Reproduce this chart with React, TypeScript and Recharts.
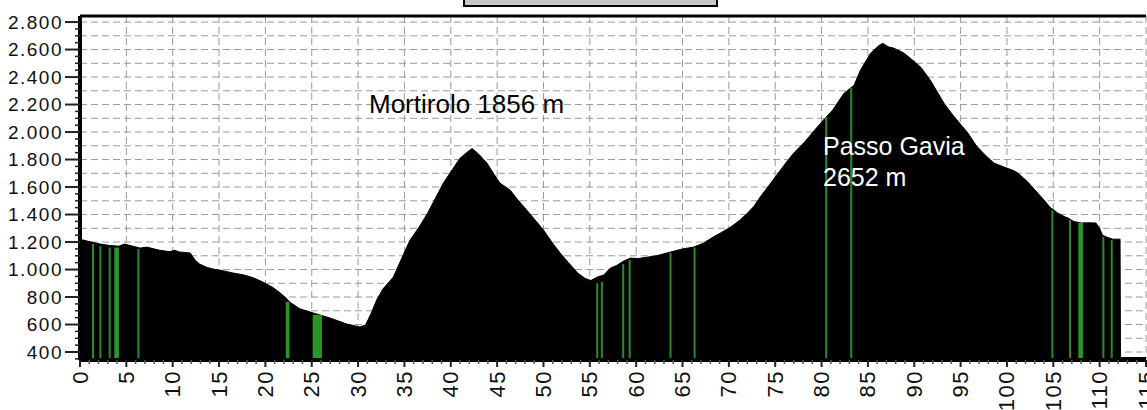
import { ComposedChart, Area, XAxis, YAxis, CartesianGrid, ReferenceLine, ReferenceArea } from 'recharts';

// profilo altimetrico: [km, quota m]
const PROFILE: [number, number][] = [
  [0, 1220], [1.2, 1200], [2.2, 1185], [3.2, 1175], [4.2, 1170], [4.8, 1185], [5.7, 1170],
  [6.5, 1156], [7.2, 1163], [8.6, 1140], [9.7, 1130], [10.2, 1140], [10.7, 1128], [11.9, 1120],
  [12.4, 1070], [12.9, 1040], [13.7, 1015], [14.4, 1003], [15.5, 990], [16.5, 975], [17.7, 960],
  [18.7, 940], [19.7, 910], [20.8, 870], [21.6, 830], [22.1, 800], [22.7, 760], [23.7, 715],
  [25.2, 683], [27, 647], [28.8, 603], [29.7, 590], [30.2, 582], [30.8, 596], [31.4, 680],
  [32, 778], [32.7, 860], [33.8, 945], [34.7, 1080], [35.6, 1214], [36.5, 1300], [37.5, 1410],
  [38.2, 1500], [39.2, 1629], [40.2, 1730], [41, 1810], [41.7, 1850], [42.3, 1880], [43, 1840],
  [43.9, 1774], [44.6, 1700], [45.3, 1629], [46.4, 1578], [47.2, 1510], [48.2, 1432], [49.1, 1360],
  [50, 1287], [50.9, 1200], [51.8, 1120], [52.7, 1050], [53.7, 974], [54.5, 935], [55.1, 920],
  [55.8, 945], [56.5, 960], [57.2, 1010], [57.9, 1030], [58.6, 1060], [59.4, 1083], [60.2, 1080],
  [61.2, 1090], [62.2, 1100], [63.7, 1127], [65, 1150], [66.2, 1163], [67.2, 1190], [68.3, 1236],
  [69.2, 1270], [70.2, 1309], [71.2, 1360], [72, 1410], [72.7, 1460], [73.4, 1530], [74.2, 1600],
  [75.2, 1690], [76.2, 1780], [77, 1847], [78.2, 1930], [79.2, 2010], [80.2, 2087], [81.2, 2160],
  [82.4, 2280], [83.5, 2340], [84.2, 2450], [85.3, 2574], [86.2, 2630], [86.6, 2645], [87.2, 2620],
  [87.8, 2610], [88.9, 2574], [89.7, 2530], [90.7, 2472], [91.7, 2380], [92.5, 2290], [93.2, 2210],
  [94.2, 2120], [95.2, 2040], [95.8, 1992], [96.7, 1900], [97.7, 1830], [98.6, 1774], [99.7, 1745],
  [100.7, 1720], [101.2, 1701], [102.2, 1640], [103.2, 1565], [104, 1505], [104.7, 1450],
  [105.5, 1410], [106.2, 1385], [106.6, 1374], [107.2, 1350], [108, 1338], [108.7, 1340],
  [109.6, 1338], [110, 1300], [110.3, 1250], [110.8, 1235], [111.4, 1221], [112.2, 1221],
  [112.25, 360], [115, 360],
];

// segnalini verdi: km e quota dove finiscono
const MARKER_KM = [1.4, 2.2, 3.2, 6.3, 55.8, 56.3, 58.6, 59.3, 63.7, 66.3, 80.5, 83.2, 104.9, 106.8, 110.4, 111.3];
const MARKER_TOP = [1185, 1170, 1160, 1150, 900, 910, 1040, 1070, 1120, 1160, 2110, 2320, 1430, 1360, 1236, 1214];
const BAND_START = [3.7, 22.2, 25.1, 107.7];
const BAND_END = [4.2, 22.6, 26.1, 108.2];
const BAND_TOP = [1160, 765, 670, 1338];

const Y_LABELS = [400, 600, 800, 1000, 1200, 1400, 1600, 1800, 2000, 2200, 2400, 2600, 2800];
const X_LABELS = [0, 5, 10, 15, 20, 25, 30, 35, 40, 45, 50, 55, 60, 65, 70, 75, 80, 85, 90, 95, 100, 105, 110, 115];

const Y_MIN = 342;
const Y_MAX = 2844;
const FONT = '"Liberation Sans", Arial, sans-serif';

const data = PROFILE.map(([km, elev]) => ({ km, elev }));
const yTicks = Array.from({ length: 50 }, (_, i) => 350 + i * 50);
const xTicks = Array.from({ length: 116 }, (_, i) => i);
const gridH = Array.from({ length: 25 }, (_, i) => 400 + i * 100);

const fmt = (v: number) =>
  v >= 1000 ? `${Math.floor(v / 1000)}.${String(v % 1000).padStart(3, '0')}` : String(v);

function YTick({ x, y, payload }: any) {
  const v = payload.value as number;
  const major = Y_LABELS.includes(v);
  return (
    <g>
      <line x1={major ? x - 15 : x - 5} x2={x} y1={y} y2={y} stroke="#222" strokeWidth={major ? 2 : 1.5} />
      {major && (
        <text x={x - 17} y={y} textAnchor="end" dominantBaseline="central"
          fontSize={19} letterSpacing={1.5} fill="#111" fontFamily={FONT}>
          {fmt(v)}
        </text>
      )}
    </g>
  );
}

function XTick({ x, y, payload }: any) {
  const v = payload.value as number;
  const major = X_LABELS.includes(v);
  return (
    <g>
      <line x1={x} x2={x} y1={y} y2={y + (major ? 7 : 4)} stroke={major ? '#222' : '#555'} strokeWidth={major ? 2 : 1.5} />
      {major && (
        <text x={x} y={y + 10} textAnchor="end" dominantBaseline="central"
          transform={`rotate(-90 ${x} ${y + 10})`}
          fontSize={22} letterSpacing={1.5} fill="#111" fontFamily={FONT}>
          {v}
        </text>
      )}
    </g>
  );
}

export default function App() {
  return (
    <div style={{ position: 'absolute', left: 0, top: 0, width: 1147, height: 410, background: '#fff', overflow: 'hidden' }}>
      <div style={{
        position: 'absolute', left: 463, top: -20, width: 251, height: 23,
        background: '#c8c8c8', border: '2px solid #000',
      }} />
      <ComposedChart width={1147} height={410} data={data} margin={{ top: 16, right: 1, left: 0, bottom: 0 }}>
        <CartesianGrid
          stroke="#9a9a9a"
          strokeDasharray="7 4"
          horizontalValues={gridH}
          verticalValues={X_LABELS.slice(1)}
        />
        <XAxis
          type="number"
          dataKey="km"
          domain={[0, 115]}
          ticks={xTicks}
          interval={0}
          height={50}
          tickSize={0}
          tickMargin={0}
          tickLine={false}
          axisLine={{ stroke: '#000', strokeWidth: 4 }}
          tick={<XTick />}
        />
        <YAxis
          type="number"
          domain={[Y_MIN, Y_MAX]}
          allowDataOverflow
          ticks={yTicks}
          interval={0}
          width={80}
          tickSize={0}
          tickMargin={0}
          tickLine={false}
          axisLine={{ stroke: '#000', strokeWidth: 4 }}
          tick={<YTick />}
        />
        <Area
          type="linear"
          dataKey="elev"
          fill="#000"
          fillOpacity={1}
          stroke="#000"
          strokeWidth={1}
          isAnimationActive={false}
        />
        {MARKER_KM.map((km, i) => (
          <ReferenceLine
            key={`m${i}`}
            segment={[{ x: km, y: Y_MIN }, { x: km, y: MARKER_TOP[i] }]}
            stroke="#2b8a2b"
            strokeWidth={2}
          />
        ))}
        {BAND_START.map((s, i) => (
          <ReferenceArea
            key={`b${i}`}
            x1={s}
            x2={BAND_END[i]}
            y1={Y_MIN}
            y2={BAND_TOP[i]}
            fill="#2a962a"
            fillOpacity={1}
            stroke="none"
          />
        ))}
        <ReferenceLine y={Y_MAX} stroke="#000" strokeWidth={3} />
      </ComposedChart>
      <div style={{
        position: 'absolute', left: 369, top: 91, fontFamily: FONT, fontSize: 26,
        lineHeight: '26px', color: '#000', whiteSpace: 'nowrap',
      }}>
        Mortirolo 1856 m
      </div>
      <div style={{
        position: 'absolute', left: 823, top: 131, fontFamily: FONT, fontSize: 25,
        lineHeight: '31px', color: '#fff', whiteSpace: 'nowrap',
      }}>
        Passo Gavia<br />2652 m
      </div>
    </div>
  );
}
